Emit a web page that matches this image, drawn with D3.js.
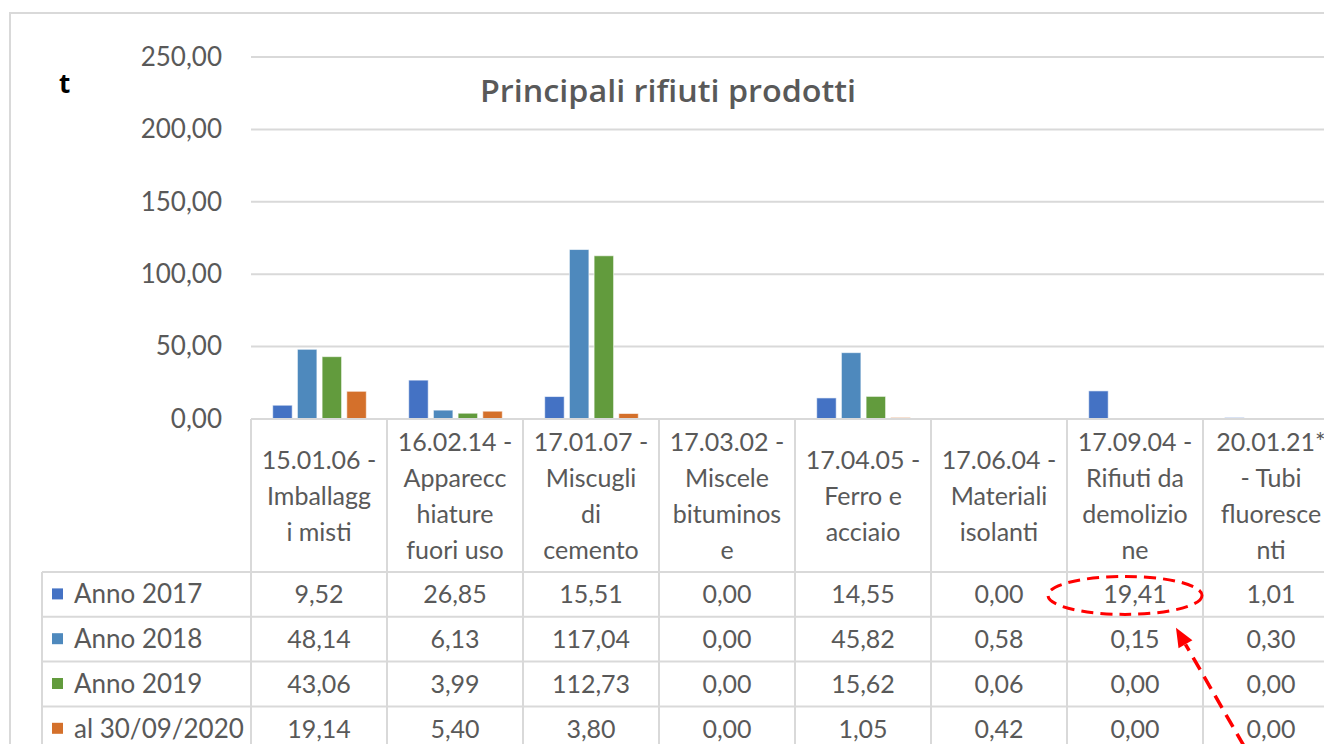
<!DOCTYPE html>
<html>
<head>
<meta charset="utf-8">
<script src="https://cdn.jsdelivr.net/npm/d3@7"></script>
<style>
  html, body { margin: 0; padding: 0; background: #fff; }
  svg { display: block; }
</style>
</head>
<body>
<div id="chart"></div>
<script>
// data
const categories = ["15.01.06", "16.02.14", "17.01.07", "17.03.02", "17.04.05", "17.06.04", "17.09.04", "20.01.21*"];
const categoryLines = [
  ["15.01.06 -", "Imballagg", "i misti"],
  ["16.02.14 -", "Apparecc", "hiature", "fuori uso"],
  ["17.01.07 -", "Miscugli", "di", "cemento"],
  ["17.03.02 -", "Miscele", "bituminos", "e"],
  ["17.04.05 -", "Ferro e", "acciaio"],
  ["17.06.04 -", "Materiali", "isolanti"],
  ["17.09.04 -", "Rifiuti da", "demolizio", "ne"],
  ["20.01.21*", "- Tubi", "fluoresce", "nti"]
];
const seriesNames = ["Anno 2017", "Anno 2018", "Anno 2019", "al 30/09/2020"];
const anno2017 = [9.52, 26.85, 15.51, 0.00, 14.55, 0.00, 19.41, 1.01];
const anno2018 = [48.14, 6.13, 117.04, 0.00, 45.82, 0.58, 0.15, 0.30];
const anno2019 = [43.06, 3.99, 112.73, 0.00, 15.62, 0.06, 0.00, 0.00];
const al2020 = [19.14, 5.40, 3.80, 0.00, 1.05, 0.42, 0.00, 0.00];
const seriesValues = [anno2017, anno2018, anno2019, al2020];
const seriesColors = ["#4472c4", "#4e89bd", "#629b3d", "#d4702b"];
const yTicks = [0, 50, 100, 150, 200, 250];

const W = 1324, H = 744;
const grid = "#d9d9d9", textGray = "#595959";
const left = 251, colW = 136;
const yTop = 57, yBase = 419;
const headerBottom = 572, rowH = 44.8;

const it = d3.formatLocale({ decimal: ",", thousands: ".", grouping: [3], currency: ["€", ""] });
const fmt = it.format(",.2f");

const svg = d3.select("#chart").append("svg")
  .attr("width", W).attr("height", H);

// outer chart border (cropped)
svg.append("path")
  .attr("d", `M10,${H + 5}V13H${W + 5}`)
  .attr("fill", "none").attr("stroke", grid).attr("stroke-width", 2);

const x = d3.scaleBand().domain(categories).range([left, left + colW * categories.length]);
const xs = d3.scaleBand().domain(seriesNames).range([21.7, 115.3]).paddingInner(0.21);
const y = d3.scaleLinear().domain([0, 250]).range([yBase, yTop]);

// gridlines
svg.append("g").selectAll("line").data(yTicks.filter(d => d > 0)).join("line")
  .attr("x1", left).attr("x2", W + 5)
  .attr("y1", d => y(d)).attr("y2", d => y(d))
  .attr("stroke", grid).attr("stroke-width", 2);

// y axis labels
const yAxis = svg.append("g")
  .attr("transform", `translate(${left},0)`)
  .call(d3.axisLeft(y).tickValues(yTicks).tickFormat(fmt).tickSize(0).tickPadding(29));
yAxis.select(".domain").remove();
yAxis.selectAll("text")
  .attr("fill", textGray)
  .attr("font-family", "Lato, 'Open Sans', sans-serif")
  .attr("font-size", 26);

// bars
const groups = svg.append("g").selectAll("g").data(categories).join("g")
  .attr("transform", d => `translate(${x(d)},0)`);
groups.selectAll("rect")
  .data((c, i) => seriesNames.map((s, k) => ({ s, k, v: seriesValues[k][i] })))
  .join("rect")
  .filter(d => d.v > 0)
  .attr("x", d => xs(d.s))
  .attr("width", xs.bandwidth())
  .attr("y", d => y(d.v))
  .attr("height", d => y(0) - y(d.v))
  .attr("fill", d => seriesColors[d.k])
  .attr("stroke", "#ffffff").attr("stroke-opacity", 0.6).attr("stroke-width", 1);

// data table
const table = svg.append("g");
const right = W + 20;
const tableLeft = 42;
const rowTops = seriesNames.map((s, k) => headerBottom + k * rowH);

// horizontal lines
table.append("line")
  .attr("x1", left).attr("x2", right).attr("y1", yBase).attr("y2", yBase)
  .attr("stroke", grid).attr("stroke-width", 2);
table.selectAll("line.h").data(rowTops.concat([headerBottom + 4 * rowH])).join("line")
  .attr("class", "h")
  .attr("x1", tableLeft).attr("x2", right)
  .attr("y1", d => d).attr("y2", d => d)
  .attr("stroke", grid).attr("stroke-width", 2);
// vertical lines
table.selectAll("line.v").data(categories.concat(["end"])).join("line")
  .attr("class", "v")
  .attr("x1", (d, i) => left + i * colW).attr("x2", (d, i) => left + i * colW)
  .attr("y1", yBase).attr("y2", H + 5)
  .attr("stroke", grid).attr("stroke-width", 2);
table.append("line")
  .attr("x1", tableLeft).attr("x2", tableLeft).attr("y1", headerBottom).attr("y2", H + 5)
  .attr("stroke", grid).attr("stroke-width", 2);

// category header labels
const lineH = 36;
const headMid = (yBase + headerBottom) / 2;
svg.append("g").selectAll("text").data(categories).join("text")
  .attr("x", d => x(d) + colW / 2)
  .attr("text-anchor", "middle")
  .attr("fill", textGray)
  .attr("font-family", "Lato, 'Open Sans', sans-serif")
  .attr("font-size", 25)
  .each(function (d, i) {
    const lines = categoryLines[i];
    const y0 = headMid - (lines.length - 1) * lineH / 2 + 9;
    d3.select(this).selectAll("tspan").data(lines).join("tspan")
      .attr("x", x(d) + colW / 2)
      .attr("y", (l, j) => y0 + j * lineH)
      .text(l => l);
  });

// legend cells
const legend = svg.append("g").selectAll("g").data(seriesNames).join("g")
  .attr("transform", (d, k) => `translate(${tableLeft},${rowTops[k] + rowH / 2})`);
legend.append("rect")
  .attr("x", 10).attr("y", -6).attr("width", 11).attr("height", 11)
  .attr("fill", (d, k) => seriesColors[k]);
legend.append("text")
  .attr("x", 32).attr("y", 9)
  .attr("fill", textGray)
  .attr("font-family", "Lato, 'Open Sans', sans-serif")
  .attr("font-size", 26)
  .text(d => d);

// value cells
seriesNames.forEach((s, k) => {
  svg.append("g").selectAll("text").data(categories).join("text")
    .attr("x", d => x(d) + colW / 2)
    .attr("y", rowTops[k] + rowH / 2 + 9)
    .attr("text-anchor", "middle")
    .attr("fill", textGray)
    .attr("font-family", "Lato, 'Open Sans', sans-serif")
    .attr("font-size", 25)
    .text((d, i) => fmt(seriesValues[k][i]));
});

// title and unit
svg.append("text")
  .attr("x", 668).attr("y", 102)
  .attr("text-anchor", "middle")
  .attr("fill", textGray)
  .attr("font-family", "'Open Sans', sans-serif")
  .attr("font-weight", 600)
  .attr("font-size", 31)
  .attr("textLength", 376).attr("lengthAdjust", "spacingAndGlyphs")
  .text("Principali rifiuti prodotti");
svg.append("text")
  .attr("x", 59).attr("y", 93)
  .attr("fill", "#000")
  .attr("font-family", "'Open Sans', sans-serif")
  .attr("font-weight", 700)
  .attr("font-size", 26)
  .text("t");

// red annotation: dashed ellipse around 19,41 and dashed arrow
const hiCat = "17.09.04";
const cx = x(hiCat) + colW / 2 - 10, cy = rowTops[0] + rowH / 2 + 1;
const red = "#ff0000";
svg.append("ellipse")
  .attr("cx", cx).attr("cy", cy).attr("rx", 77).attr("ry", 19)
  .attr("fill", "none").attr("stroke", red).attr("stroke-width", 3)
  .attr("stroke-dasharray", "12,7");
const tip = [cx + 51, rowTops[1] + 11];
const tail = [cx + 119, H + 2];
const ang = Math.atan2(tail[1] - tip[1], tail[0] - tip[0]);
const headLen = 19, headW = 8;
const base = [tip[0] + headLen * Math.cos(ang), tip[1] + headLen * Math.sin(ang)];
svg.append("line")
  .attr("x1", tail[0]).attr("y1", tail[1]).attr("x2", base[0]).attr("y2", base[1])
  .attr("stroke", red).attr("stroke-width", 3.5).attr("stroke-dasharray", "14,8");
svg.append("polygon")
  .attr("points", [
    tip,
    [base[0] + headW * Math.sin(ang), base[1] - headW * Math.cos(ang)],
    [base[0] - headW * Math.sin(ang), base[1] + headW * Math.cos(ang)]
  ].map(p => p.join(",")).join(" "))
  .attr("fill", red);
</script>
</body>
</html>
